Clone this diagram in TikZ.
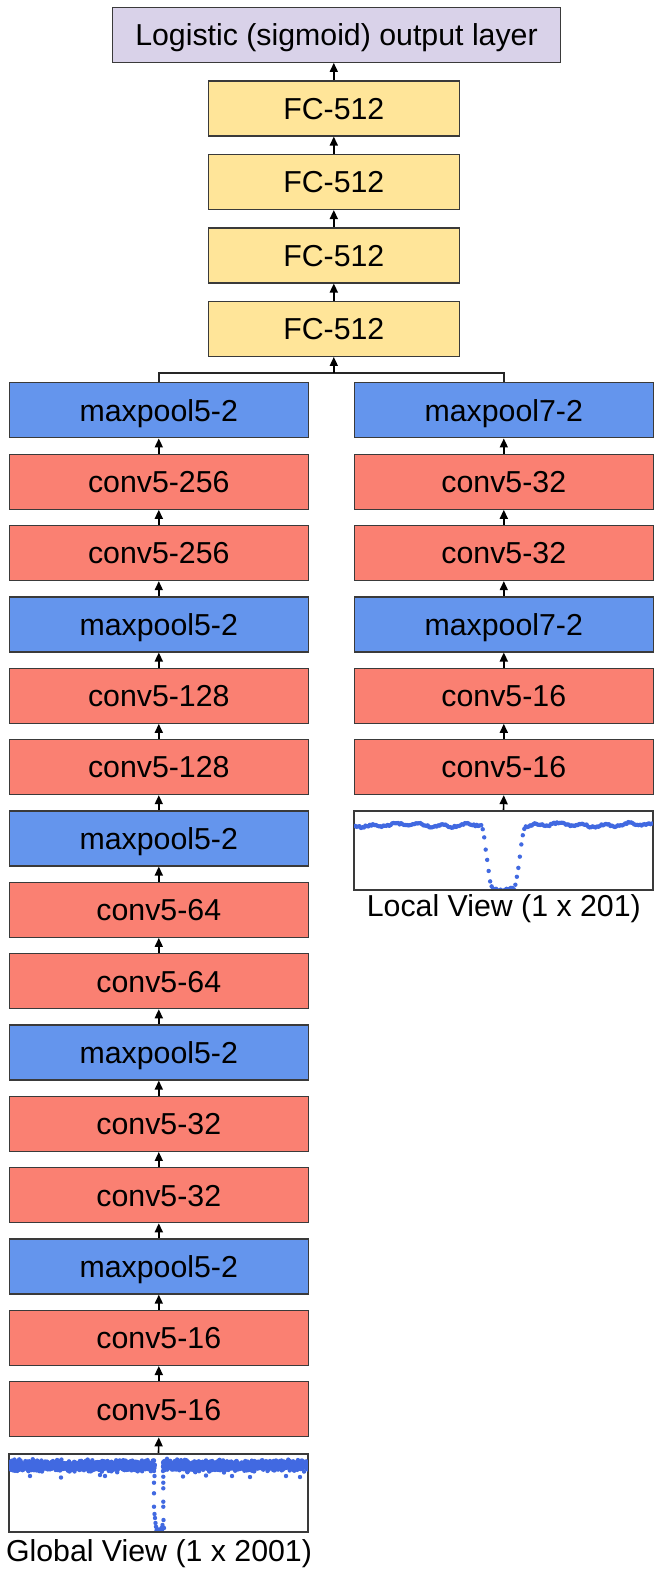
\documentclass[tikz,border=0pt]{standalone}
\usepackage{fontspec}
\setmainfont{Liberation Sans}
\usetikzlibrary{arrows.meta}
\definecolor{toppurple}{HTML}{D9D2E9}
\definecolor{fcyellow}{HTML}{FFE599}
\definecolor{poolblue}{HTML}{6495ED}
\definecolor{convred}{HTML}{FA8072}
\definecolor{edgegray}{HTML}{3A3A3A}
\definecolor{dotblue}{HTML}{4169E1}
\tikzset{
 layer/.style={draw=edgegray, line width=1.2pt, minimum height=55pt, inner sep=0pt,
   text height=21.7pt, text depth=0pt, font=\fontsize{30.3pt}{36pt}\selectfont},
 colbox/.style={layer, minimum width=299pt},
 pool/.style={colbox, fill=poolblue},
 conv/.style={colbox, fill=convred},
 fcbox/.style={layer, fill=fcyellow, minimum width=251pt},
 outbox/.style={layer, fill=toppurple, minimum width=448.4pt},
 arr/.style={draw=black, line width=1.6pt, -{Triangle[length=9pt,width=8pt]}},
 merge/.style={draw=black!85, line width=2pt},
 plotbox/.style={draw=edgegray, line width=1.5pt, fill=white, inner sep=0pt},
 plotframe/.style={draw=edgegray, line width=1.5pt},
 caption/.style={font=\fontsize{30.3pt}{36pt}\selectfont, anchor=base, inner sep=0pt},
 lcdot/.style={fill=dotblue}
}
\begin{document}
\begin{tikzpicture}[x=1pt,y=-1pt]
\useasboundingbox (0,0) rectangle (664,1581);
\pgfmathsetseed{4242}
% output and FC layers
\node[outbox] (top) at (336.5,34.8) {Logistic (sigmoid) output layer};
\node[fcbox] (F1) at (333.8,108.5) {FC-512};
\node[fcbox] (F2) at (333.8,181.95) {FC-512};
\node[fcbox] (F3) at (333.8,255.4) {FC-512};
\node[fcbox] (F4) at (333.8,328.85) {FC-512};
% left column
\node[pool] (L0) at (158.8,410.35) {maxpool5-2};
\node[conv] (L1) at (158.8,481.7) {conv5-256};
\node[conv] (L2) at (158.8,553.05) {conv5-256};
\node[pool] (L3) at (158.8,624.4) {maxpool5-2};
\node[conv] (L4) at (158.8,695.75) {conv5-128};
\node[conv] (L5) at (158.8,767.1) {conv5-128};
\node[pool] (L6) at (158.8,838.45) {maxpool5-2};
\node[conv] (L7) at (158.8,909.8) {conv5-64};
\node[conv] (L8) at (158.8,981.15) {conv5-64};
\node[pool] (L9) at (158.8,1052.5) {maxpool5-2};
\node[conv] (L10) at (158.8,1123.85) {conv5-32};
\node[conv] (L11) at (158.8,1195.2) {conv5-32};
\node[pool] (L12) at (158.8,1266.55) {maxpool5-2};
\node[conv] (L13) at (158.8,1337.9) {conv5-16};
\node[conv] (L14) at (158.8,1409.25) {conv5-16};
% right column
\node[pool] (R0) at (503.8,410.35) {maxpool7-2};
\node[conv] (R1) at (503.8,481.7) {conv5-32};
\node[conv] (R2) at (503.8,553.05) {conv5-32};
\node[pool] (R3) at (503.8,624.4) {maxpool7-2};
\node[conv] (R4) at (503.8,695.75) {conv5-16};
\node[conv] (R5) at (503.8,767.1) {conv5-16};
% plots
\node[plotbox, minimum width=298.4pt, minimum height=77.3pt] (GV) at (158.5,1492.65) {};
\node[plotbox, minimum width=298.4pt, minimum height=77.6pt] (LV) at (503.5,850.5) {};
\node[caption] (GVlab) at (159,1561) {Global View (1 x 2001)};
\node[caption] (LVlab) at (503.8,916) {Local View (1 x 201)};
% connectors
\draw[arr] (F1.north) -- (F1.north |- top.south);
\draw[arr] (F2.north) -- (F1.south);
\draw[arr] (F3.north) -- (F2.south);
\draw[arr] (F4.north) -- (F3.south);
\coordinate (JL) at ([yshift=9.7pt]L0.north);
\draw[merge] (L0.north) -- (JL) -| (R0.north);
\draw[arr] (F4.south |- JL) -- (F4.south);
\foreach \i [evaluate=\i as \j using int(\i+1)] in {0,...,13}{
  \draw[arr] (L\j.north) -- (L\i.south);
}
\foreach \i [evaluate=\i as \j using int(\i+1)] in {0,...,4}{
  \draw[arr] (R\j.north) -- (R\i.south);
}
\draw[arr] (GV.north) -- (L14.south);
\draw[arr] (LV.north) -- (R5.south);
% global view data
\begin{scope}
\clip (GV.south west) rectangle (GV.north east);
\foreach \i in {0,...,975}{
  \pgfmathsetmacro\gvx{9.3+(\i+0.5)*0.14913}
  \pgfmathsetmacro\gvy{1465.5+2.5*(rand+rand+rand)}
  \fill[lcdot] (\gvx,\gvy) circle[radius=2.2];
}
\foreach \i in {1030,...,2000}{
  \pgfmathsetmacro\gvx{9.3+(\i+0.5)*0.14913}
  \pgfmathsetmacro\gvy{1465.5+2.5*(rand+rand+rand)}
  \fill[lcdot] (\gvx,\gvy) circle[radius=2.2];
}
\foreach \p in {(61,1477.5),(183,1476.5),(105,1476),(250,1477),(100,1475),(286,1476),(232,1476),(206,1475.5),(300,1477),(30,1476)}{
  \fill[lcdot] \p circle[radius=2.2];
}
\foreach \p in {(154,1471),(154.5,1476),(154,1482.7),(154,1493.3),(154,1506.7),(154.5,1514),(155,1518),(155.5,1523),(156,1526.7),(157,1529),(158.5,1530),(160,1529.5),(161.5,1528),(162.5,1525),(163.5,1520),(163.3,1506.7),(163.3,1501.7),(163.3,1488.3),(163.3,1482.7),(163.3,1476.7),(163,1471),(156.5,1530.5),(159.5,1531),(162,1531),(164,1528)}{
  \fill[lcdot] \p circle[radius=2.2];
}
\end{scope}
\draw[plotframe] (GV.south west) rectangle (GV.north east);
% local view data
\begin{scope}
\clip (LV.south west) rectangle (LV.north east);
\foreach \i in {0,...,200}{
  \pgfmathsetmacro\lvx{354.3+(\i+0.5)*1.4846}
  \pgfmathsetmacro\lva{abs(\lvx-503)}
  \pgfmathsetmacro\lvt{max(0,min(1,(22.5-\lva)/12))}
  \pgfmathsetmacro\lvy{825+1.2*sin(\i*23)+1.0*sin(\i*7+30)+0.9*rand+64*(3*\lvt*\lvt-2*\lvt*\lvt*\lvt)}
  \fill[lcdot] (\lvx,\lvy) circle[radius=2.2];
}
\end{scope}
\draw[plotframe] (LV.south west) rectangle (LV.north east);
\end{tikzpicture}
\end{document}
